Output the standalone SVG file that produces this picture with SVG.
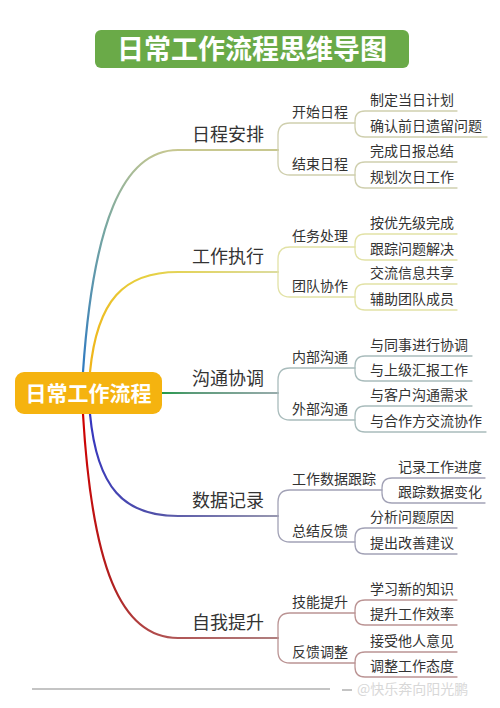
<svg xmlns="http://www.w3.org/2000/svg" width="500" height="708" viewBox="0 0 500 708">
<style>
text{font-family:"Noto Sans CJK SC","Noto Sans",sans-serif;fill:#333}
.l1{font-size:18px}
.l2{font-size:14px}
.lf{font-size:14px}
.ln{fill:none;stroke-width:1.3;stroke-linecap:round}
.main{fill:none;stroke-width:2.2;stroke-linecap:round}
.c1{stroke:#cfcfae}
.c2{stroke:#e2e2a6}
.c3{stroke:#a9bcbc}
.c4{stroke:#a2a2b6}
.c5{stroke:#bb9494}
</style>
<defs>
<linearGradient id="g1" gradientUnits="userSpaceOnUse" x1="83" y1="372" x2="178" y2="150"><stop offset="0" stop-color="#2f7ac0"/><stop offset="0.6" stop-color="#7aa8a0"/><stop offset="1" stop-color="#c8c890"/></linearGradient>
<linearGradient id="g2" gradientUnits="userSpaceOnUse" x1="90" y1="372" x2="278" y2="272"><stop offset="0" stop-color="#f0b418"/><stop offset="0.45" stop-color="#e6d040"/><stop offset="1" stop-color="#dcdca0"/></linearGradient>
<linearGradient id="g3" gradientUnits="userSpaceOnUse" x1="162" y1="393" x2="278" y2="393"><stop offset="0" stop-color="#229a48"/><stop offset="0.25" stop-color="#5a9a78"/><stop offset="1" stop-color="#98acac"/></linearGradient>
<linearGradient id="g4" gradientUnits="userSpaceOnUse" x1="90" y1="414" x2="278" y2="516"><stop offset="0" stop-color="#3535c0"/><stop offset="0.5" stop-color="#5050a8"/><stop offset="1" stop-color="#9898b0"/></linearGradient>
<linearGradient id="g5" gradientUnits="userSpaceOnUse" x1="83" y1="414" x2="278" y2="638"><stop offset="0" stop-color="#d00000"/><stop offset="0.5" stop-color="#b02020"/><stop offset="1" stop-color="#b08080"/></linearGradient>
</defs>
<rect width="500" height="708" fill="#fff"/>

<g id="title">
<rect x="95" y="30" width="314" height="38" rx="6" fill="#6aaa48"/>
<text x="252" y="59" text-anchor="middle" style="font-size:27px;font-weight:bold;fill:#fff">日常工作流程思维导图</text>
</g>

<g id="connectors">
<path class="main" stroke="url(#g1)" d="M83,372 C93,225 122,150 178,150 L278,150"/>
<path class="main" stroke="url(#g2)" d="M90,372 C97,300 124,272 178,272 L278,272"/>
<path class="main" stroke="url(#g3)" d="M162,393 L278,393"/>
<path class="main" stroke="url(#g4)" d="M90,414 C97,488 124,516 178,516 L278,516"/>
<path class="main" stroke="url(#g5)" d="M83,414 C92,565 120,638 178,638 L278,638"/>

<path class="ln c1" d="M278,150 L278,135 Q278,123 290,123 L355,123 M278,150 L278,163 Q278,175 290,175 L355,175"/>
<path class="ln c1" d="M355,123 L355,121 Q355,111 365,111 L457,111 M355,123 L355,127 Q355,137 365,137 L487,137"/>
<path class="ln c1" d="M355,175 L355,172 Q355,162 365,162 L457,162 M355,175 L355,178 Q355,188 365,188 L457,188"/>

<path class="ln c2" d="M278,272 L278,259 Q278,247 290,247 L355,247 M278,272 L278,285 Q278,297 290,297 L355,297"/>
<path class="ln c2" d="M355,247 L355,244 Q355,234 365,234 L457,234 M355,247 L355,250 Q355,260 365,260 L457,260"/>
<path class="ln c2" d="M355,297 L355,294 Q355,284 365,284 L457,284 M355,297 L355,300 Q355,310 365,310 L457,310"/>

<path class="ln c3" d="M278,393 L278,380 Q278,368 290,368 L355,368 M278,393 L278,408 Q278,420 290,420 L355,420"/>
<path class="ln c3" d="M355,368 L355,366 Q355,356 365,356 L472,356 M355,368 L355,371 Q355,381 365,381 L472,381"/>
<path class="ln c3" d="M355,420 L355,416 Q355,406 365,406 L472,406 M355,420 L355,422 Q355,432 365,432 L486,432"/>

<path class="ln c4" d="M278,516 L278,502 Q278,490 290,490 L382,490 M278,516 L278,530 Q278,542 290,542 L355,542"/>
<path class="ln c4" d="M382,490 L382,488 Q382,478 392,478 L485,478 M382,490 L382,493 Q382,503 392,503 L485,503"/>
<path class="ln c4" d="M355,542 L355,538 Q355,528 365,528 L457,528 M355,542 L355,544 Q355,554 365,554 L457,554"/>

<path class="ln c5" d="M278,638 L278,625 Q278,613 290,613 L355,613 M278,638 L278,651 Q278,663 290,663 L355,663"/>
<path class="ln c5" d="M355,613 L355,610 Q355,600 365,600 L457,600 M355,613 L355,615 Q355,625 365,625 L457,625"/>
<path class="ln c5" d="M355,663 L355,662 Q355,652 365,652 L457,652 M355,663 L355,667 Q355,677 365,677 L457,677"/>
</g>

<g id="root">
<rect x="15" y="372" width="147" height="42" rx="9" fill="#f5b30f"/>
<text x="88.5" y="401" text-anchor="middle" style="font-size:21px;font-weight:bold;fill:#fff">日常工作流程</text>
</g>

<g id="n1"><text class="l1" x="192" y="141">日程安排</text></g>
<g id="n1a"><text class="l2" x="292" y="117">开始日程</text></g>
<g id="n1a1"><text class="lf" x="370" y="105">制定当日计划</text></g>
<g id="n1a2"><text class="lf" x="370" y="131">确认前日遗留问题</text></g>
<g id="n1b"><text class="l2" x="292" y="169">结束日程</text></g>
<g id="n1b1"><text class="lf" x="370" y="156">完成日报总结</text></g>
<g id="n1b2"><text class="lf" x="370" y="182">规划次日工作</text></g>

<g id="n2"><text class="l1" x="192" y="263">工作执行</text></g>
<g id="n2a"><text class="l2" x="292" y="241">任务处理</text></g>
<g id="n2a1"><text class="lf" x="370" y="228">按优先级完成</text></g>
<g id="n2a2"><text class="lf" x="370" y="254">跟踪问题解决</text></g>
<g id="n2b"><text class="l2" x="292" y="291">团队协作</text></g>
<g id="n2b1"><text class="lf" x="370" y="278">交流信息共享</text></g>
<g id="n2b2"><text class="lf" x="370" y="304">辅助团队成员</text></g>

<g id="n3"><text class="l1" x="192" y="385">沟通协调</text></g>
<g id="n3a"><text class="l2" x="292" y="362">内部沟通</text></g>
<g id="n3a1"><text class="lf" x="370" y="350">与同事进行协调</text></g>
<g id="n3a2"><text class="lf" x="370" y="375">与上级汇报工作</text></g>
<g id="n3b"><text class="l2" x="292" y="414">外部沟通</text></g>
<g id="n3b1"><text class="lf" x="370" y="400">与客户沟通需求</text></g>
<g id="n3b2"><text class="lf" x="370" y="426">与合作方交流协作</text></g>

<g id="n4"><text class="l1" x="192" y="507">数据记录</text></g>
<g id="n4a"><text class="l2" x="292" y="484">工作数据跟踪</text></g>
<g id="n4a1"><text class="lf" x="398" y="472">记录工作进度</text></g>
<g id="n4a2"><text class="lf" x="398" y="497">跟踪数据变化</text></g>
<g id="n4b"><text class="l2" x="292" y="536">总结反馈</text></g>
<g id="n4b1"><text class="lf" x="370" y="522">分析问题原因</text></g>
<g id="n4b2"><text class="lf" x="370" y="548">提出改善建议</text></g>

<g id="n5"><text class="l1" x="192" y="629">自我提升</text></g>
<g id="n5a"><text class="l2" x="292" y="607">技能提升</text></g>
<g id="n5a1"><text class="lf" x="370" y="594">学习新的知识</text></g>
<g id="n5a2"><text class="lf" x="370" y="619">提升工作效率</text></g>
<g id="n5b"><text class="l2" x="292" y="657">反馈调整</text></g>
<g id="n5b1"><text class="lf" x="370" y="646">接受他人意见</text></g>
<g id="n5b2"><text class="lf" x="370" y="671">调整工作态度</text></g>

<g id="footer">
<path d="M32,689 L330,689 M342,690 L352,690" stroke="#8a8a8a" stroke-width="1.2" fill="none"/>
<text x="357" y="694" style="font-size:14px;fill:#d8d8d8">@快乐奔向阳光鹏</text>
</g>
</svg>
